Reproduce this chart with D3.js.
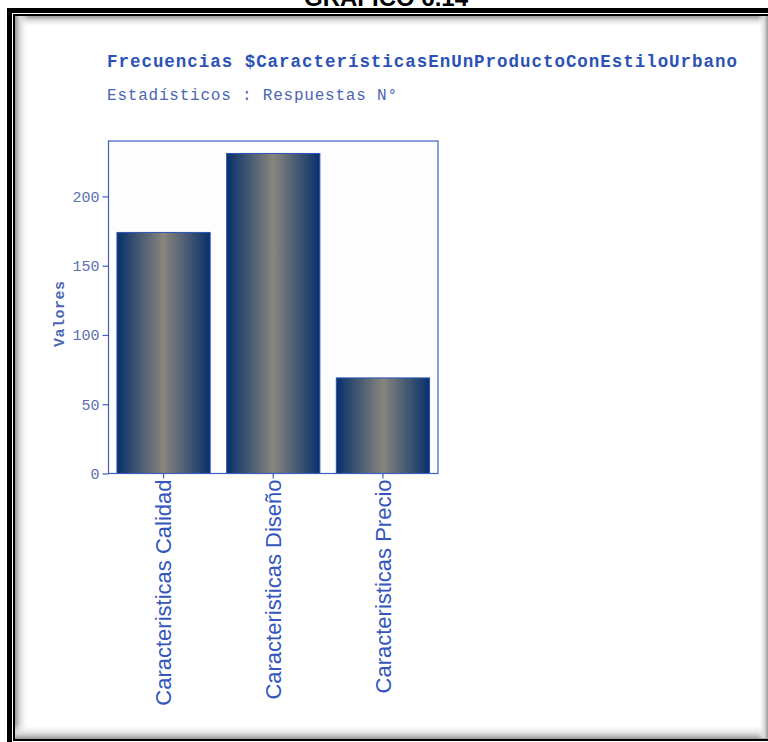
<!DOCTYPE html>
<html>
<head>
<meta charset="utf-8">
<script src="https://cdn.jsdelivr.net/npm/d3@7"></script>
<style>
  html, body { margin: 0; padding: 0; background: #ffffff; }
  svg { display: block; }
</style>
</head>
<body>
<svg id="chart" width="768" height="742"></svg>
<script>
// Survey answers: characteristics wanted in an urban-style product
const categories = ["Caracteristicas Calidad", "Caracteristicas Diseño", "Caracteristicas Precio"];
const counts = [174, 231, 69];
const yTicks = [0, 50, 100, 150, 200];
const heading = "GRAFICO 6.14";
const title = "Frecuencias $CaracterísticasEnUnProductoConEstiloUrbano";
const subtitle = "Estadísticos : Respuestas N°";
const yLabel = "Valores";

const svg = d3.select("#chart");
const W = 768, H = 742;

const defs = svg.append("defs");

// soft inner shading along the panel edges
function edgeGrad(id, x1, y1, x2, y2) {
  const g = defs.append("linearGradient").attr("id", id)
    .attr("x1", x1).attr("y1", y1).attr("x2", x2).attr("y2", y2);
  g.append("stop").attr("offset", "0%").attr("stop-color", "#9a9a9a");
  g.append("stop").attr("offset", "35%").attr("stop-color", "#d9d9d9");
  g.append("stop").attr("offset", "100%").attr("stop-color", "#ffffff").attr("stop-opacity", 0);
}
edgeGrad("shadeTop", 0, 0, 0, 1);
edgeGrad("shadeLeft", 0, 0, 1, 0);
edgeGrad("shadeBottom", 0, 1, 0, 0);
edgeGrad("shadeRight", 1, 0, 0, 0);

// bar fill: navy edges, grey centre
const barGrad = defs.append("linearGradient").attr("id", "barFill")
  .attr("x1", 0).attr("y1", 0).attr("x2", 1).attr("y2", 0);
barGrad.append("stop").attr("offset", "0%").attr("stop-color", "#08306a");
barGrad.append("stop").attr("offset", "50%").attr("stop-color", "#88857c");
barGrad.append("stop").attr("offset", "100%").attr("stop-color", "#08306a");

// heading above the frame (its lower part peeks out above the border)
svg.append("text")
  .attr("x", 386).attr("y", 6)
  .attr("text-anchor", "middle")
  .attr("font-family", "Liberation Sans, Arial, sans-serif")
  .attr("font-weight", "bold")
  .attr("font-size", 24)
  .attr("fill", "#000")
  .text(heading);

// frame
svg.append("rect").attr("x", 9.5).attr("y", 10.5).attr("width", W).attr("height", 740)
  .attr("fill", "none").attr("stroke", "#000").attr("stroke-width", 5);
svg.append("rect").attr("x", 15).attr("y", 16).attr("width", W).attr("height", 722)
  .attr("fill", "#fff");
svg.append("rect").attr("x", 14).attr("y", 15).attr("width", W).attr("height", 725)
  .attr("fill", "none").attr("stroke", "#000").attr("stroke-width", 2);
svg.append("rect").attr("x", 15).attr("y", 16).attr("width", W - 15).attr("height", 12).attr("fill", "url(#shadeTop)");
svg.append("rect").attr("x", 15).attr("y", 16).attr("width", 14).attr("height", 722).attr("fill", "url(#shadeLeft)");
svg.append("rect").attr("x", 15).attr("y", 724).attr("width", W - 15).attr("height", 15).attr("fill", "url(#shadeBottom)");
svg.append("rect").attr("x", 758).attr("y", 16).attr("width", 10).attr("height", 722).attr("fill", "url(#shadeRight)");

// titles
svg.append("text")
  .attr("x", 107).attr("y", 67)
  .attr("font-family", "Liberation Mono, Courier New, monospace")
  .attr("font-weight", "bold").attr("font-size", 17.5)
  .attr("textLength", 630).attr("lengthAdjust", "spacing")
  .attr("fill", "#2c52b8")
  .text(title);
svg.append("text")
  .attr("x", 107).attr("y", 100)
  .attr("font-family", "Liberation Mono, Courier New, monospace")
  .attr("font-size", 16)
  .attr("textLength", 290).attr("lengthAdjust", "spacing")
  .attr("fill", "#4a66b4")
  .text(subtitle);

// plot area
const plot = { left: 108.5, top: 141, right: 438, bottom: 473.5 };

const x = d3.scaleBand()
  .domain(categories)
  .range([plot.left, plot.right])
  .paddingInner(0.15)
  .paddingOuter(0.077);

const y = d3.scaleLinear()
  .domain([0, 240])
  .range([plot.bottom, plot.top]);

svg.append("rect")
  .attr("x", plot.left).attr("y", plot.top)
  .attr("width", plot.right - plot.left).attr("height", plot.bottom - plot.top)
  .attr("fill", "#fdfdfd");

svg.append("g").selectAll("rect")
  .data(counts)
  .join("rect")
  .attr("x", (d, i) => x(categories[i]))
  .attr("y", d => y(d))
  .attr("width", x.bandwidth())
  .attr("height", d => y(0) - y(d))
  .attr("fill", "url(#barFill)")
  .attr("stroke", "#2a55b8")
  .attr("stroke-width", 1);

svg.append("rect")
  .attr("x", plot.left).attr("y", plot.top)
  .attr("width", plot.right - plot.left).attr("height", plot.bottom - plot.top)
  .attr("fill", "none").attr("stroke", "#3f5fbf").attr("stroke-width", 1.2);

// y axis
const yAxis = svg.append("g")
  .attr("transform", `translate(${plot.left},0)`)
  .call(d3.axisLeft(y).tickValues(yTicks).tickSize(6).tickPadding(3));
yAxis.select(".domain").remove();
yAxis.selectAll("line").attr("stroke", "#3f5fbf").attr("stroke-width", 1.2);
yAxis.selectAll("text")
  .attr("font-family", "Liberation Mono, Courier New, monospace")
  .attr("font-size", 15)
  .attr("fill", "#5a6fb0");

// x axis with vertical labels
const xAxis = svg.append("g")
  .attr("transform", `translate(0,${plot.bottom})`)
  .call(d3.axisBottom(x).tickSize(5).tickPadding(0));
xAxis.select(".domain").remove();
xAxis.selectAll("line").attr("stroke", "#3f5fbf").attr("stroke-width", 1.2);
xAxis.selectAll("text")
  .attr("font-family", "Liberation Sans, Arial, sans-serif")
  .attr("font-size", 22)
  .attr("fill", "#3456bd")
  .attr("text-anchor", "end")
  .attr("dy", "0.36em")
  .attr("transform", "translate(0,5) rotate(-90)")
  .attr("x", -1).attr("y", 0);

// y axis title
svg.append("text")
  .attr("transform", "translate(64,314) rotate(-90)")
  .attr("text-anchor", "middle")
  .attr("font-family", "Liberation Mono, Courier New, monospace")
  .attr("font-weight", "bold").attr("font-size", 15)
  .attr("textLength", 66).attr("lengthAdjust", "spacing")
  .attr("fill", "#4a66b4")
  .text(yLabel);
</script>
</body>
</html>
